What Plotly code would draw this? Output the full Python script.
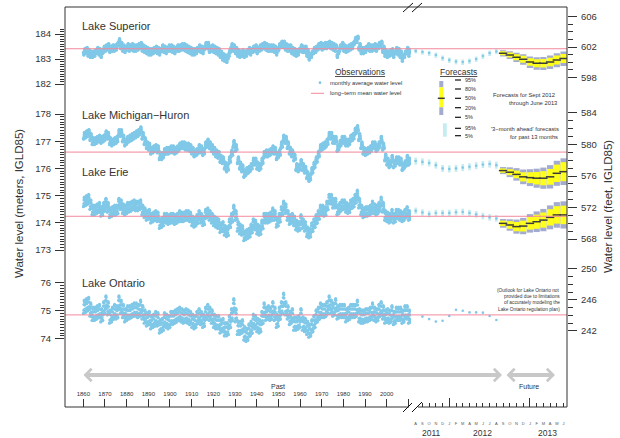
import plotly.graph_objects as go

# ---------------- data ----------------
YEARS = list(range(1860, 2011))

SUP_ANNUAL = [
    183.30, 183.35, 183.25, 183.20, 183.20, 183.25, 183.35, 183.30, 183.20, 183.40,
    183.45, 183.50, 183.40, 183.45, 183.45, 183.50, 183.70, 183.55, 183.45, 183.40,
    183.50, 183.45, 183.50, 183.45, 183.45, 183.50, 183.55, 183.45, 183.40, 183.35,
    183.30, 183.30, 183.35, 183.40, 183.35, 183.30, 183.45, 183.40, 183.35, 183.45,
    183.45, 183.40, 183.35, 183.45, 183.45, 183.50, 183.50, 183.45, 183.40, 183.35,
    183.30, 183.30, 183.35, 183.45, 183.40, 183.35, 183.55, 183.55, 183.40, 183.45,
    183.40, 183.35, 183.30, 183.20, 183.10, 183.05, 183.00, 183.25, 183.50, 183.45,
    183.35, 183.25, 183.20, 183.25, 183.20, 183.25, 183.35, 183.30, 183.40, 183.45,
    183.35, 183.45, 183.50, 183.55, 183.50, 183.45, 183.45, 183.45, 183.40, 183.30,
    183.50, 183.60, 183.60, 183.50, 183.45, 183.45, 183.35, 183.30, 183.25, 183.30,
    183.45, 183.40, 183.40, 183.25, 183.10, 183.20, 183.35, 183.40, 183.50, 183.55,
    183.50, 183.55, 183.55, 183.60, 183.55, 183.50, 183.45, 183.20, 183.45, 183.55,
    183.45, 183.40, 183.45, 183.50, 183.55, 183.75, 183.80, 183.50, 183.35, 183.35,
    183.40, 183.50, 183.45, 183.45, 183.50, 183.45, 183.55, 183.60, 183.40, 183.25,
    183.20, 183.25, 183.30, 183.20, 183.35, 183.30, 183.20, 183.05, 183.20, 183.35,
    183.25]

MH_ANNUAL = [
    177.20, 177.25, 177.30, 177.15, 177.00, 177.00, 177.05, 177.10, 177.05, 177.10,
    177.25, 177.20, 177.00, 176.95, 177.00, 177.05, 177.30, 177.30, 177.10, 176.95,
    177.05, 177.10, 177.15, 177.20, 177.25, 177.30, 177.40, 177.20, 177.00, 176.85,
    176.80, 176.65, 176.70, 176.75, 176.70, 176.45, 176.45, 176.60, 176.65, 176.65,
    176.70, 176.70, 176.65, 176.70, 176.80, 176.85, 176.85, 176.80, 176.80, 176.75,
    176.65, 176.55, 176.60, 176.75, 176.70, 176.60, 176.85, 176.95, 176.85, 176.75,
    176.65, 176.55, 176.50, 176.35, 176.30, 176.10, 176.00, 176.30, 176.55, 176.90,
    176.75, 176.30, 176.10, 176.00, 175.80, 175.90, 175.95, 176.05, 176.25, 176.25,
    176.10, 176.05, 176.25, 176.50, 176.55, 176.55, 176.60, 176.70, 176.65, 176.45,
    176.55, 176.85, 177.10, 177.05, 176.85, 176.65, 176.55, 176.40, 176.05, 176.00,
    176.20, 176.05, 175.95, 175.75, 175.65, 175.90, 176.10, 176.30, 176.50, 176.75,
    176.80, 176.85, 176.95, 177.20, 177.20, 177.05, 177.05, 176.75, 176.90, 177.05,
    177.05, 176.95, 176.95, 177.10, 177.15, 177.35, 177.45, 177.15, 176.85, 176.65,
    176.60, 176.65, 176.70, 176.85, 176.85, 176.75, 176.85, 177.05, 176.80, 176.40,
    176.25, 176.15, 176.35, 176.15, 176.30, 176.30, 176.25, 176.05, 176.15, 176.35,
    176.25]

ERIE_ANNUAL = [
    174.75, 174.80, 174.85, 174.65, 174.45, 174.45, 174.50, 174.55, 174.40, 174.55,
    174.70, 174.55, 174.35, 174.40, 174.45, 174.45, 174.70, 174.65, 174.50, 174.45,
    174.55, 174.55, 174.60, 174.65, 174.60, 174.60, 174.65, 174.45, 174.35, 174.25,
    174.30, 174.15, 174.20, 174.25, 174.20, 173.95, 174.00, 174.15, 174.15, 174.10,
    174.15, 174.15, 174.10, 174.15, 174.25, 174.20, 174.20, 174.25, 174.25, 174.20,
    174.05, 174.00, 174.10, 174.25, 174.15, 174.05, 174.30, 174.35, 174.25, 174.15,
    174.05, 174.00, 173.95, 173.80, 173.85, 173.70, 173.65, 173.95, 174.15, 174.45,
    174.25, 173.85, 173.75, 173.70, 173.50, 173.55, 173.60, 173.75, 173.95, 173.90,
    173.75, 173.70, 173.90, 174.15, 174.15, 174.15, 174.20, 174.35, 174.25, 174.00,
    174.15, 174.40, 174.60, 174.50, 174.25, 174.10, 174.15, 174.05, 173.90, 173.85,
    174.10, 173.95, 173.85, 173.65, 173.60, 173.80, 173.95, 174.10, 174.25, 174.45,
    174.45, 174.40, 174.60, 174.85, 174.85, 174.70, 174.70, 174.45, 174.55, 174.65,
    174.65, 174.55, 174.50, 174.65, 174.70, 174.85, 175.00, 174.70, 174.45, 174.35,
    174.40, 174.40, 174.45, 174.60, 174.50, 174.45, 174.55, 174.75, 174.55, 174.25,
    174.20, 174.15, 174.30, 174.15, 174.30, 174.30, 174.25, 174.20, 174.30, 174.40,
    174.25]

ONT_ANNUAL = [
    75.10, 75.15, 75.20, 75.00, 74.85, 74.85, 74.90, 74.95, 74.80, 75.05,
    75.25, 75.05, 74.75, 74.85, 74.95, 74.90, 75.25, 75.10, 74.95, 74.80,
    74.90, 74.90, 74.95, 75.00, 75.00, 74.95, 75.10, 74.90, 74.75, 74.65,
    74.70, 74.55, 74.60, 74.70, 74.65, 74.40, 74.45, 74.65, 74.60, 74.55,
    74.70, 74.70, 74.75, 74.80, 74.85, 74.80, 74.75, 74.80, 74.75, 74.70,
    74.60, 74.55, 74.70, 74.80, 74.70, 74.60, 74.85, 74.95, 74.85, 74.75,
    74.60, 74.55, 74.55, 74.40, 74.45, 74.30, 74.30, 74.55, 74.80, 75.15,
    74.80, 74.35, 74.35, 74.40, 74.15, 74.10, 74.25, 74.35, 74.60, 74.55,
    74.45, 74.40, 74.70, 75.00, 74.85, 74.90, 74.85, 75.05, 74.85, 74.60,
    74.85, 75.05, 75.35, 75.05, 74.90, 74.70, 74.80, 74.50, 74.50, 74.55,
    74.80, 74.50, 74.45, 74.35, 74.25, 74.40, 74.55, 74.75, 74.85, 75.00,
    74.95, 74.95, 75.05, 75.25, 75.10, 75.00, 75.15, 74.90, 74.95, 74.95,
    74.95, 74.80, 74.85, 74.95, 74.95, 74.95, 75.10, 74.80, 74.75, 74.75,
    74.80, 74.80, 74.85, 75.00, 74.85, 74.80, 74.95, 75.05, 74.90, 74.75,
    74.80, 74.75, 74.90, 74.70, 74.85, 74.85, 74.85, 74.75, 74.90, 74.90,
    74.75]

# typical within-year (Jan..Dec) departures from the annual level
SUP_SEASON = [-0.03, -0.09, -0.14, -0.14, -0.07, 0.01, 0.06, 0.10, 0.12, 0.11, 0.06, 0.01]
MH_SEASON = [-0.10, -0.13, -0.11, -0.04, 0.04, 0.10, 0.13, 0.12, 0.07, 0.01, -0.04, -0.07]
ERIE_SEASON = [-0.16, -0.14, -0.05, 0.09, 0.17, 0.20, 0.16, 0.08, -0.02, -0.10, -0.12, -0.11]
ONT_SEASON = [-0.20, -0.19, -0.08, 0.12, 0.25, 0.28, 0.22, 0.10, -0.05, -0.15, -0.16, -0.14]

# long-term means (m)
SUP_MEAN, MH_MEAN, ERIE_MEAN, ONT_MEAN = 183.41, 176.60, 174.24, 74.85

# month index: (year-2011)*12 + month-1  -> Aug 2011 = 7, Jan 2012 = 12, Jun 2013 = 29
MONTH_LETTERS = ["J", "F", "M", "A", "M", "J", "J", "A", "S", "O", "N", "D"]
LABEL_MONTHS = list(range(7, 30))
PAST_MONTHS = list(range(7, 20))          # Aug 2011 .. Aug 2012
FC_MONTHS = list(range(20, 30))           # Sep 2012 .. Jun 2013

SUP_PAST_OBS = [183.32, 183.28, 183.24, 183.16, 183.04, 182.96, 182.90, 182.88, 182.92, 183.00, 183.12, 183.24, 183.30]
SUP_PAST_LO = [183.22, 183.17, 183.12, 183.04, 182.92, 182.84, 182.78, 182.76, 182.80, 182.88, 183.00, 183.12, 183.20]
SUP_PAST_HI = [183.40, 183.37, 183.33, 183.26, 183.14, 183.06, 183.00, 182.98, 183.02, 183.10, 183.22, 183.34, 183.40]

MH_PAST_OBS = [176.27, 176.24, 176.20, 176.12, 176.00, 175.98, 176.00, 176.03, 176.06, 176.10, 176.14, 176.16, 176.12]
MH_PAST_LO = [176.14, 176.11, 176.07, 175.99, 175.87, 175.85, 175.87, 175.90, 175.93, 175.97, 176.01, 176.03, 175.99]
MH_PAST_HI = [176.40, 176.37, 176.33, 176.25, 176.13, 176.11, 176.13, 176.16, 176.19, 176.23, 176.27, 176.29, 176.25]

ERIE_PAST_OBS = [174.44, 174.38, 174.32, 174.36, 174.36, 174.36, 174.39, 174.40, 174.36, 174.31, 174.25, 174.20, 174.16]
ERIE_PAST_LO = [174.32, 174.26, 174.20, 174.24, 174.24, 174.24, 174.27, 174.28, 174.24, 174.19, 174.13, 174.08, 174.04]
ERIE_PAST_HI = [174.56, 174.50, 174.44, 174.48, 174.48, 174.48, 174.51, 174.52, 174.48, 174.43, 174.37, 174.32, 174.28]

ONT_PAST_MONTHS = list(range(8, 20))
ONT_PAST_OBS = [74.79, 74.70, 74.61, 74.64, 74.81, 75.03, 75.00, 74.94, 74.94, 74.93, 74.81, 74.67]

SUP_P5 = [183.10, 183.00, 182.88, 182.77, 182.64, 182.57, 182.56, 182.60, 182.67, 182.72]
SUP_P20 = [183.15, 183.06, 182.95, 182.85, 182.73, 182.67, 182.66, 182.71, 182.78, 182.84]
SUP_P50 = [183.23, 183.16, 183.07, 182.99, 182.88, 182.83, 182.83, 182.88, 182.96, 183.02]
SUP_P80 = [183.31, 183.26, 183.19, 183.13, 183.03, 182.99, 183.00, 183.05, 183.14, 183.20]
SUP_P95 = [183.35, 183.31, 183.25, 183.19, 183.10, 183.07, 183.08, 183.14, 183.23, 183.30]

MH_P5 = [175.79, 175.68, 175.55, 175.42, 175.35, 175.29, 175.25, 175.26, 175.36, 175.39]
MH_P20 = [175.84, 175.75, 175.64, 175.52, 175.46, 175.41, 175.38, 175.40, 175.50, 175.53]
MH_P50 = [175.92, 175.86, 175.78, 175.69, 175.66, 175.64, 175.64, 175.69, 175.82, 175.88]
MH_P80 = [176.00, 175.97, 175.92, 175.86, 175.86, 175.87, 175.90, 175.98, 176.14, 176.23]
MH_P95 = [176.05, 176.04, 176.01, 175.96, 175.97, 175.99, 176.03, 176.12, 176.28, 176.37]

ERIE_P5 = [173.82, 173.71, 173.60, 173.58, 173.64, 173.66, 173.69, 173.76, 173.82, 173.79]
ERIE_P20 = [173.88, 173.78, 173.69, 173.68, 173.75, 173.78, 173.82, 173.90, 173.97, 173.95]
ERIE_P50 = [173.98, 173.92, 173.86, 173.88, 173.98, 174.04, 174.10, 174.20, 174.29, 174.29]
ERIE_P80 = [174.08, 174.06, 174.03, 174.08, 174.21, 174.30, 174.38, 174.50, 174.61, 174.63]
ERIE_P95 = [174.14, 174.13, 174.12, 174.18, 174.32, 174.42, 174.51, 174.64, 174.76, 174.79]

YEAR_TICKS = list(range(1860, 2011, 10))

# ---------------- styling ----------------
DOT = "#80c8e8"
PINK = "#f2899c"
YELLOW = "#ffff1a"
GRAYBLUE = "#a3abcf"
PALE = "#c6ecf0"
MED = "#3a3a3a"
ARROW = "#c8c8c8"
TXT = "#333333"
FONT = "Liberation Sans, Arial, Helvetica, sans-serif"

L, R, T, B = 65, 567, 7, 407


def fx(px):
    return (px - L) / (R - L)


def fy(py):
    return (B - py) / (B - T)


def monthly(annual, season):
    xs, ys = [], []
    for yr, a in zip(YEARS, annual):
        for i, s in enumerate(season):
            xs.append(yr + (i + 0.5) / 12.0)
            ys.append(round(a + s, 3))
    return xs, ys


fig = go.Figure()

# historic monthly observations
for ann, sea, ya in [(SUP_ANNUAL, SUP_SEASON, "y"), (MH_ANNUAL, MH_SEASON, "y2"),
                     (ERIE_ANNUAL, ERIE_SEASON, "y2"), (ONT_ANNUAL, ONT_SEASON, "y3")]:
    xs, ys = monthly(ann, sea)
    fig.add_trace(go.Scatter(x=xs, y=ys, mode="markers", xaxis="x", yaxis=ya,
                             marker=dict(size=3.1, color=DOT, line=dict(width=0)),
                             hoverinfo="skip"))

# past 13 months: 3-month-ahead forecast ranges and observations
for lo, hi, obs, ya in [(SUP_PAST_LO, SUP_PAST_HI, SUP_PAST_OBS, "y"),
                        (MH_PAST_LO, MH_PAST_HI, MH_PAST_OBS, "y2"),
                        (ERIE_PAST_LO, ERIE_PAST_HI, ERIE_PAST_OBS, "y2")]:
    fig.add_trace(go.Bar(x=PAST_MONTHS, y=[h - l for l, h in zip(lo, hi)], base=lo,
                         width=0.4, marker=dict(color=PALE, line=dict(width=0)),
                         xaxis="x2", yaxis=ya, hoverinfo="skip"))
    fig.add_trace(go.Scatter(x=PAST_MONTHS, y=obs, mode="markers", xaxis="x2", yaxis=ya,
                             marker=dict(size=2.6, color=DOT), hoverinfo="skip"))
fig.add_trace(go.Scatter(x=ONT_PAST_MONTHS, y=ONT_PAST_OBS, mode="markers", xaxis="x2", yaxis="y3",
                         marker=dict(size=2.6, color=DOT), hoverinfo="skip"))

# forecasts Sep 2012 - Jun 2013
for p5, p20, p50, p80, p95, ya in [(SUP_P5, SUP_P20, SUP_P50, SUP_P80, SUP_P95, "y"),
                                   (MH_P5, MH_P20, MH_P50, MH_P80, MH_P95, "y2"),
                                   (ERIE_P5, ERIE_P20, ERIE_P50, ERIE_P80, ERIE_P95, "y2")]:
    fig.add_trace(go.Bar(x=FC_MONTHS, y=[b - a for a, b in zip(p5, p95)], base=p5, width=0.92,
                         marker=dict(color=GRAYBLUE, line=dict(width=0)),
                         xaxis="x2", yaxis=ya, hoverinfo="skip"))
    fig.add_trace(go.Bar(x=FC_MONTHS, y=[b - a for a, b in zip(p20, p80)], base=p20, width=0.92,
                         marker=dict(color=YELLOW, line=dict(width=0)),
                         xaxis="x2", yaxis=ya, hoverinfo="skip"))
    fig.add_trace(go.Scatter(x=FC_MONTHS, y=p50, mode="markers", xaxis="x2", yaxis=ya,
                             marker=dict(symbol="line-ew", size=6, color=MED,
                                         line=dict(width=1.5, color=MED)),
                             hoverinfo="skip"))

# invisible anchors so that the feet axes (right side) and tick axis get drawn
for ya in ["y4", "y5", "y6"]:
    fig.add_trace(go.Scatter(x=[20], y=[None], mode="markers", xaxis="x2", yaxis=ya,
                             marker=dict(opacity=0), hoverinfo="skip"))
fig.add_trace(go.Scatter(x=[20], y=[None], mode="markers", xaxis="x3", yaxis="y3",
                         marker=dict(opacity=0), hoverinfo="skip"))


def minor_vals(a, b, step):
    n = int(round((b - a) / step))
    return [round(a + i * step, 2) for i in range(n + 1)]


tickfont = dict(size=9.5, color=TXT, family=FONT)
common_y = dict(showgrid=False, zeroline=False, showline=False, ticks="outside", ticklen=9,
                tickwidth=1, tickcolor=TXT, tickfont=tickfont, ticklabelstandoff=2,
                automargin=False)
ymin = lambda vals: dict(tickvals=vals, ticks="outside", ticklen=4.5, tickwidth=1, tickcolor=TXT)

XR1 = [1851.55, 2011.22]
XR2 = [6.598, 29.515]

fig.update_layout(
    width=620, height=438,
    margin=dict(l=L, r=620 - R, t=T, b=438 - B, autoexpand=False),
    plot_bgcolor="white", paper_bgcolor="white",
    showlegend=False, barmode="overlay",
    font=dict(family=FONT, color=TXT),
    xaxis=dict(domain=[0, fx(411)], range=XR1, anchor="y3", tickvals=YEAR_TICKS,
               ticks="inside", ticklen=8, tickcolor=TXT, ticklabelposition="inside",
               ticklabelstandoff=0,
               tickfont=dict(size=6, color=TXT), showgrid=False, zeroline=False, showline=False,
               automargin=False),
    xaxis2=dict(domain=[fx(413), 1], range=XR2, anchor="y3", tickvals=LABEL_MONTHS,
                ticktext=[MONTH_LETTERS[m % 12] for m in LABEL_MONTHS], ticks="",
                tickfont=dict(size=4, color="#555"), ticklabelstandoff=13,
                showgrid=False, zeroline=False, showline=False, automargin=False),
    xaxis3=dict(overlaying="x2", range=XR2, anchor="y3", tickvals=[12, 24], ticks="inside",
                ticklen=9, tickcolor=TXT, showticklabels=False, showgrid=False,
                zeroline=False, showline=False, automargin=False,
                minor=dict(tickvals=list(range(8, 30)), ticks="inside", ticklen=4,
                           tickcolor=TXT, showgrid=False)),
    yaxis=dict(domain=[fy(100), 1], range=[181.36, 185.08], anchor="x", side="left",
               tickvals=[182, 183, 184], minor=ymin(minor_vals(182, 184.2, 0.1)), **common_y),
    yaxis2=dict(domain=[fy(262), fy(100)], range=[172.559, 178.515], anchor="x", side="left",
                tickvals=[173, 174, 175, 176, 177, 178], minor=ymin(minor_vals(173, 178, 0.1)),
                **common_y),
    yaxis3=dict(domain=[0, fy(262)], range=[71.561, 76.739], anchor="x", side="left",
                tickvals=[74, 75, 76], minor=ymin(minor_vals(74, 76, 0.1)), **common_y),
    yaxis4=dict(overlaying="y", anchor="x2", side="right", range=[595.02, 607.27],
                tickvals=[598, 602, 606], minor=ymin(minor_vals(598, 606, 1)), **common_y),
    yaxis5=dict(overlaying="y2", anchor="x2", side="right", range=[565.08, 585.65],
                tickvals=[568, 572, 576, 580, 584], minor=ymin(minor_vals(568, 584, 1)),
                **common_y),
    yaxis6=dict(overlaying="y3", anchor="x2", side="right", range=[232.19, 250.90],
                tickvals=[242, 246, 250], minor=ymin(minor_vals(242, 250, 1)), **common_y),
)

shapes = []
for m, ya in [(SUP_MEAN, "y"), (MH_MEAN, "y2"), (ERIE_MEAN, "y2"), (ONT_MEAN, "y3")]:
    shapes.append(dict(type="line", xref="paper", x0=0, x1=1, yref=ya, y0=m, y1=m,
                       line=dict(color=PINK, width=1), layer="above"))
shapes.append(dict(type="rect", xref="paper", yref="paper", x0=0, x1=1, y0=0, y1=1,
                   line=dict(color=TXT, width=1), layer="above"))
# axis break
shapes.append(dict(type="line", xref="paper", yref="paper", x0=fx(409), x1=fx(418), y0=0, y1=0,
                   line=dict(color="white", width=2), layer="above"))
for (x0, y0, x1, y1) in [(403, 12, 413, 3), (412, 12, 422, 3), (403, 412, 412, 403), (412, 412, 422, 402)]:
    shapes.append(dict(type="line", xref="paper", yref="paper", x0=fx(x0), y0=fy(y0), x1=fx(x1), y1=fy(y1),
                       line=dict(color="#111", width=1), layer="above"))

# legend graphics
shapes.append(dict(type="circle", xref="paper", yref="paper", x0=fx(318.6), x1=fx(321.4),
                   y0=fy(84.1), y1=fy(81.3), fillcolor=DOT, line=dict(width=0)))
shapes.append(dict(type="line", xref="paper", yref="paper", x0=fx(311), x1=fx(324), y0=fy(93.3), y1=fy(93.3),
                   line=dict(color=PINK, width=1)))
for (ya, yb, col) in [(81, 87.3, GRAYBLUE), (87.3, 107.3, YELLOW), (107.3, 115, GRAYBLUE)]:
    shapes.append(dict(type="rect", xref="paper", yref="paper", x0=fx(439.3), x1=fx(443.3),
                       y0=fy(yb), y1=fy(ya), fillcolor=col, line=dict(width=0)))
shapes.append(dict(type="line", xref="paper", yref="paper", x0=fx(437.8), x1=fx(444.8), y0=fy(98.3), y1=fy(98.3),
                   line=dict(color=MED, width=1.5)))
shapes.append(dict(type="rect", xref="paper", yref="paper", x0=fx(443), x1=fx(446.8),
                   y0=fy(136.7), y1=fy(123.3), fillcolor=PALE, line=dict(width=0)))
LEG_PCT = [("95%", 80), ("80%", 89), ("50%", 98.3), ("20%", 107.7), ("5%", 117.3), ("95%", 128.3), ("5%", 135.7)]
for _, yy in LEG_PCT:
    shapes.append(dict(type="line", xref="paper", yref="paper", x0=fx(455), x1=fx(461), y0=fy(yy), y1=fy(yy),
                       line=dict(color="#111", width=1.2)))
fig.update_layout(shapes=shapes)

ann = []


def text(px, py, s, size, xanchor="left", angle=0, color=TXT):
    ann.append(dict(xref="paper", yref="paper", x=fx(px), y=fy(py), text=s, showarrow=False,
                    xanchor=xanchor, yanchor="middle", textangle=angle,
                    font=dict(size=size, color=color, family=FONT)))


text(80, 26, "Lake Superior", 11)
text(80, 114.5, "Lake Michigan−Huron", 11)
text(80, 172, "Lake Erie", 11)
text(80, 283, "Lake Ontario", 11)
text(19, 204, "Water level (meters, IGLD85)", 11.5, "center", -90)
text(608, 207, "Water level (feet, IGLD85)", 11.5, "center", -90)
text(359.7, 71.7, "<u>Observations</u>", 8.5, "center")
text(327.5, 82.7, "monthly average water level", 5.8)
text(327.5, 93.3, "long−term mean water level", 5.8)
text(458, 71.7, "<u>Forecasts</u>", 8.5, "center")
for lab, yy in LEG_PCT:
    text(463, yy, lab, 5.5)
text(557, 95, "Forecasts for Sept 2012", 5.8, "right")
text(558.5, 103.3, "through June 2013", 5.8, "right")
text(560.5, 129, "'3−month ahead' forecasts", 5.8, "right")
text(560, 137.3, "for past 13 months", 5.8, "right")
for i, s in enumerate(["(Outlook for Lake Ontario not", "provided due to limitations",
                       "of accurately modeling the", "Lake Ontario regulation plan)"]):
    text(561.7, 290 + i * 6.4, s, 4.8, "right")
text(277.7, 386.3, "Past", 7, "center")
text(529, 386.3, "Future", 7, "center")

for lab, m in [("2011", 9.28), ("2012", 16.94), ("2013", 26.61)]:
    ann.append(dict(xref="x2", yref="paper", x=m, y=fy(432.7), text=lab, showarrow=False,
                    xanchor="center", yanchor="middle", font=dict(size=8.5, color=TXT, family=FONT)))

for head, tail in [(502, 82), (555, 505)]:
    ann.append(dict(xref="paper", yref="paper", x=fx(head), y=fy(375), ax=tail - head, ay=0,
                    text="", showarrow=True, arrowside="end+start", arrowhead=4, startarrowhead=4,
                    arrowsize=0.6, startarrowsize=0.6, arrowwidth=4, arrowcolor=ARROW, standoff=0,
                    startstandoff=0))
fig.update_layout(annotations=ann)

# the page's default 8px body margin would shift the figure inside the 620x438 window
fig.write_html("out.html", config={"displayModeBar": False},
               post_script="document.body.style.margin='0px';")
